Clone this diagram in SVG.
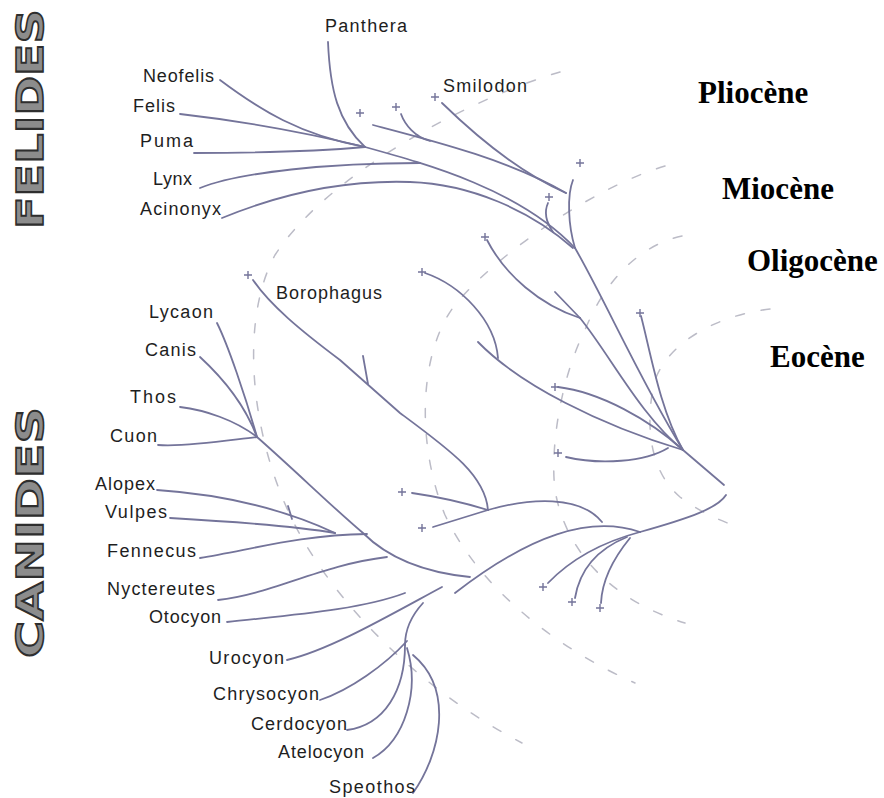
<svg xmlns="http://www.w3.org/2000/svg" xmlns:xlink="http://www.w3.org/1999/xlink" width="884" height="798" viewBox="0 0 884 798">
<style>
.br{fill:none;stroke:#74749a;stroke-width:1.8;stroke-linecap:round;stroke-linejoin:round}
.ds{fill:none;stroke:#bcbcc7;stroke-width:1.5;stroke-dasharray:9 17;stroke-linecap:round}
.lb{font-family:"Liberation Sans",Arial,sans-serif;font-size:18px;fill:#1e1e1e}
.ep{font-family:"Liberation Serif","Times New Roman",serif;font-size:31px;font-weight:bold;fill:#000}
.fam{font-family:"DejaVu Sans",Verdana,sans-serif;font-size:38px;font-weight:bold;fill:#8c8c8c;stroke:#2e2e2e;stroke-width:1.6}
.cr{fill:none;stroke:#74749a;stroke-width:1.4}
</style>
<defs>
<path id="plus" d="M-4,0 H4 M0,-4 V4"/>
</defs>
<rect width="884" height="798" fill="#fff"/>

<g id="epochs">
<path class="ds" d="M560,72 C480,95 330,170 275,255 C240,320 250,430 290,515 C330,600 420,690 522,743"/>
<path class="ds" d="M665,166 C600,185 500,250 455,305 C420,350 415,440 445,515 C480,590 560,650 635,683"/>
<path class="ds" d="M682,236 C640,245 605,280 585,330 C560,380 550,450 555,490 C565,550 610,600 685,623"/>
<path class="ds" d="M770,309 C720,315 670,340 655,380 C645,420 648,470 680,497 C700,512 715,518 730,524"/>
<text class="ep" x="698" y="103">Pliocène</text>
<text class="ep" x="722" y="199">Miocène</text>
<text class="ep" x="747" y="271">Oligocène</text>
<text class="ep" x="770" y="367">Eocène</text>
</g>

<g id="families">
<text class="fam" transform="translate(43,229) rotate(-90)" textLength="220" lengthAdjust="spacingAndGlyphs">FELIDES</text>
<text class="fam" transform="translate(43,658) rotate(-90)" textLength="251" lengthAdjust="spacingAndGlyphs">CANIDES</text>
</g>

<g id="connectors">
<path class="br" d="M328,42 C330,90 338,122 365,147"/>
<path class="br" d="M220,80 C260,110 300,135 365,147"/>
<path class="br" d="M180,114 C250,122 320,136 365,147"/>
<path class="br" d="M194,153 C260,153 320,151 365,147"/>
<path class="br" d="M365,147 C430,165 520,190 575,248"/>
<path class="br" d="M200,188 C240,172 330,163 420,163"/>
<path class="br" d="M222,218 C290,190 350,180 410,182 C470,184 530,210 573,248"/>
<path class="br" d="M373,125 C430,140 510,160 566,193"/>
<path class="br" d="M401,114 C405,125 415,137 430,141"/>
<path class="br" d="M442,103 C480,140 525,175 566,193"/>
<path class="br" d="M573,180 C567,195 568,225 575,248"/>
<path class="br" d="M548,203 C544,212 546,222 553,232"/>
<path class="br" d="M575,248 C605,300 640,380 683,450"/>
<path class="br" d="M487,240 C505,275 540,305 580,318"/>
<path class="br" d="M555,292 L580,318"/>
<path class="br" d="M580,318 C610,355 640,415 683,450"/>
<path class="br" d="M425,273 C460,285 495,320 498,358"/>
<path class="br" d="M478,342 C520,385 600,425 683,450"/>
<path class="br" d="M558,387 C600,392 650,420 683,450"/>
<path class="br" d="M641,316 C650,350 660,410 683,450"/>
<path class="br" d="M566,457 C600,465 645,462 668,448"/>
<path class="br" d="M683,450 L724,485"/>
<path class="br" d="M726,495 C718,508 690,518 640,532"/>
<path class="br" d="M640,532 C590,515 530,535 455,593"/>
<path class="br" d="M488,510 C530,498 580,495 602,522"/>
<path class="br" d="M253,280 C270,305 300,330 340,360 L400,413 C450,450 485,475 488,510"/>
<path class="br" d="M363,356 L368,384"/>
<path class="br" d="M412,493 C440,497 465,503 488,510"/>
<path class="br" d="M433,527 L488,510"/>
<path class="br" d="M217,323 C228,345 245,395 257,437"/>
<path class="br" d="M200,357 C225,380 245,405 257,437"/>
<path class="br" d="M180,407 C205,410 235,420 257,437"/>
<path class="br" d="M158,445 C190,447 230,440 257,437"/>
<path class="br" d="M257,437 C300,475 330,505 363,533 C385,555 420,572 470,577"/>
<path class="br" d="M157,490 C230,495 290,512 335,533"/>
<path class="br" d="M288,506 L292,519"/>
<path class="br" d="M170,518 C240,522 300,527 335,533"/>
<path class="br" d="M200,558 C250,550 300,535 367,534"/>
<path class="br" d="M218,600 C270,595 320,565 387,557"/>
<path class="br" d="M227,622 C290,615 360,610 405,593"/>
<path class="br" d="M287,660 C330,650 390,615 442,587"/>
<path class="br" d="M423,603 C412,615 405,628 405,645"/>
<path class="br" d="M320,700 C350,690 385,665 407,641"/>
<path class="br" d="M347,730 C385,725 405,690 405,645"/>
<path class="br" d="M373,758 C405,740 420,690 407,648"/>
<path class="br" d="M413,793 C440,755 455,690 413,655"/>
<path class="br" d="M640,532 C610,540 575,555 548,583"/>
<path class="br" d="M627,537 C600,548 580,568 575,598"/>
<path class="br" d="M630,538 C612,560 602,580 601,603"/>
</g>

<g id="extinct-tips">
<use xlink:href="#plus" class="cr" x="360" y="113"/>
<use xlink:href="#plus" class="cr" x="396" y="107"/>
<use xlink:href="#plus" class="cr" x="435" y="97"/>
<use xlink:href="#plus" class="cr" x="580" y="163"/>
<use xlink:href="#plus" class="cr" x="549" y="197"/>
<use xlink:href="#plus" class="cr" x="485" y="237"/>
<use xlink:href="#plus" class="cr" x="422" y="272"/>
<use xlink:href="#plus" class="cr" x="640" y="313"/>
<use xlink:href="#plus" class="cr" x="555" y="387"/>
<use xlink:href="#plus" class="cr" x="558" y="453"/>
<use xlink:href="#plus" class="cr" x="402" y="492"/>
<use xlink:href="#plus" class="cr" x="422" y="528"/>
<use xlink:href="#plus" class="cr" x="543" y="587"/>
<use xlink:href="#plus" class="cr" x="572" y="602"/>
<use xlink:href="#plus" class="cr" x="600" y="608"/>
<use xlink:href="#plus" class="cr" x="248" y="275"/>
</g>

<g id="felid-labels">
<g id="n-panthera"><text class="lb" x="325" y="32" textLength="82" lengthAdjust="spacing">Panthera</text></g>
<g id="n-smilodon"><text class="lb" x="443" y="92" textLength="84" lengthAdjust="spacing">Smilodon</text></g>
<g id="n-neofelis"><text class="lb" x="143" y="82" textLength="71" lengthAdjust="spacing">Neofelis</text></g>
<g id="n-felis"><text class="lb" x="133" y="112" textLength="42" lengthAdjust="spacing">Felis</text></g>
<g id="n-puma"><text class="lb" x="140" y="147" textLength="53" lengthAdjust="spacing">Puma</text></g>
<g id="n-lynx"><text class="lb" x="153" y="185" textLength="39" lengthAdjust="spacing">Lynx</text></g>
<g id="n-acinonyx"><text class="lb" x="140" y="215" textLength="81" lengthAdjust="spacing">Acinonyx</text></g>
</g>

<g id="canid-labels">
<g id="n-borophagus"><text class="lb" x="276" y="299" textLength="106" lengthAdjust="spacing">Borophagus</text></g>
<g id="n-lycaon"><text class="lb" x="149" y="318" textLength="64" lengthAdjust="spacing">Lycaon</text></g>
<g id="n-canis"><text class="lb" x="145" y="356" textLength="51" lengthAdjust="spacing">Canis</text></g>
<g id="n-thos"><text class="lb" x="130" y="403" textLength="46" lengthAdjust="spacing">Thos</text></g>
<g id="n-cuon"><text class="lb" x="110" y="442" textLength="47" lengthAdjust="spacing">Cuon</text></g>
<g id="n-alopex"><text class="lb" x="95" y="490" textLength="60" lengthAdjust="spacing">Alopex</text></g>
<g id="n-vulpes"><text class="lb" x="105" y="518" textLength="62" lengthAdjust="spacing">Vulpes</text></g>
<g id="n-fennecus"><text class="lb" x="107" y="557" textLength="89" lengthAdjust="spacing">Fennecus</text></g>
<g id="n-nyctereutes"><text class="lb" x="107" y="595" textLength="108" lengthAdjust="spacing">Nyctereutes</text></g>
<g id="n-otocyon"><text class="lb" x="149" y="623" textLength="72" lengthAdjust="spacing">Otocyon</text></g>
<g id="n-urocyon"><text class="lb" x="209" y="664" textLength="75" lengthAdjust="spacing">Urocyon</text></g>
<g id="n-chrysocyon"><text class="lb" x="213" y="700" textLength="106" lengthAdjust="spacing">Chrysocyon</text></g>
<g id="n-cerdocyon"><text class="lb" x="251" y="730" textLength="96" lengthAdjust="spacing">Cerdocyon</text></g>
<g id="n-atelocyon"><text class="lb" x="278" y="758" textLength="86" lengthAdjust="spacing">Atelocyon</text></g>
<g id="n-speothos"><text class="lb" x="329" y="793" textLength="86" lengthAdjust="spacing">Speothos</text></g>
</g>
</svg>
